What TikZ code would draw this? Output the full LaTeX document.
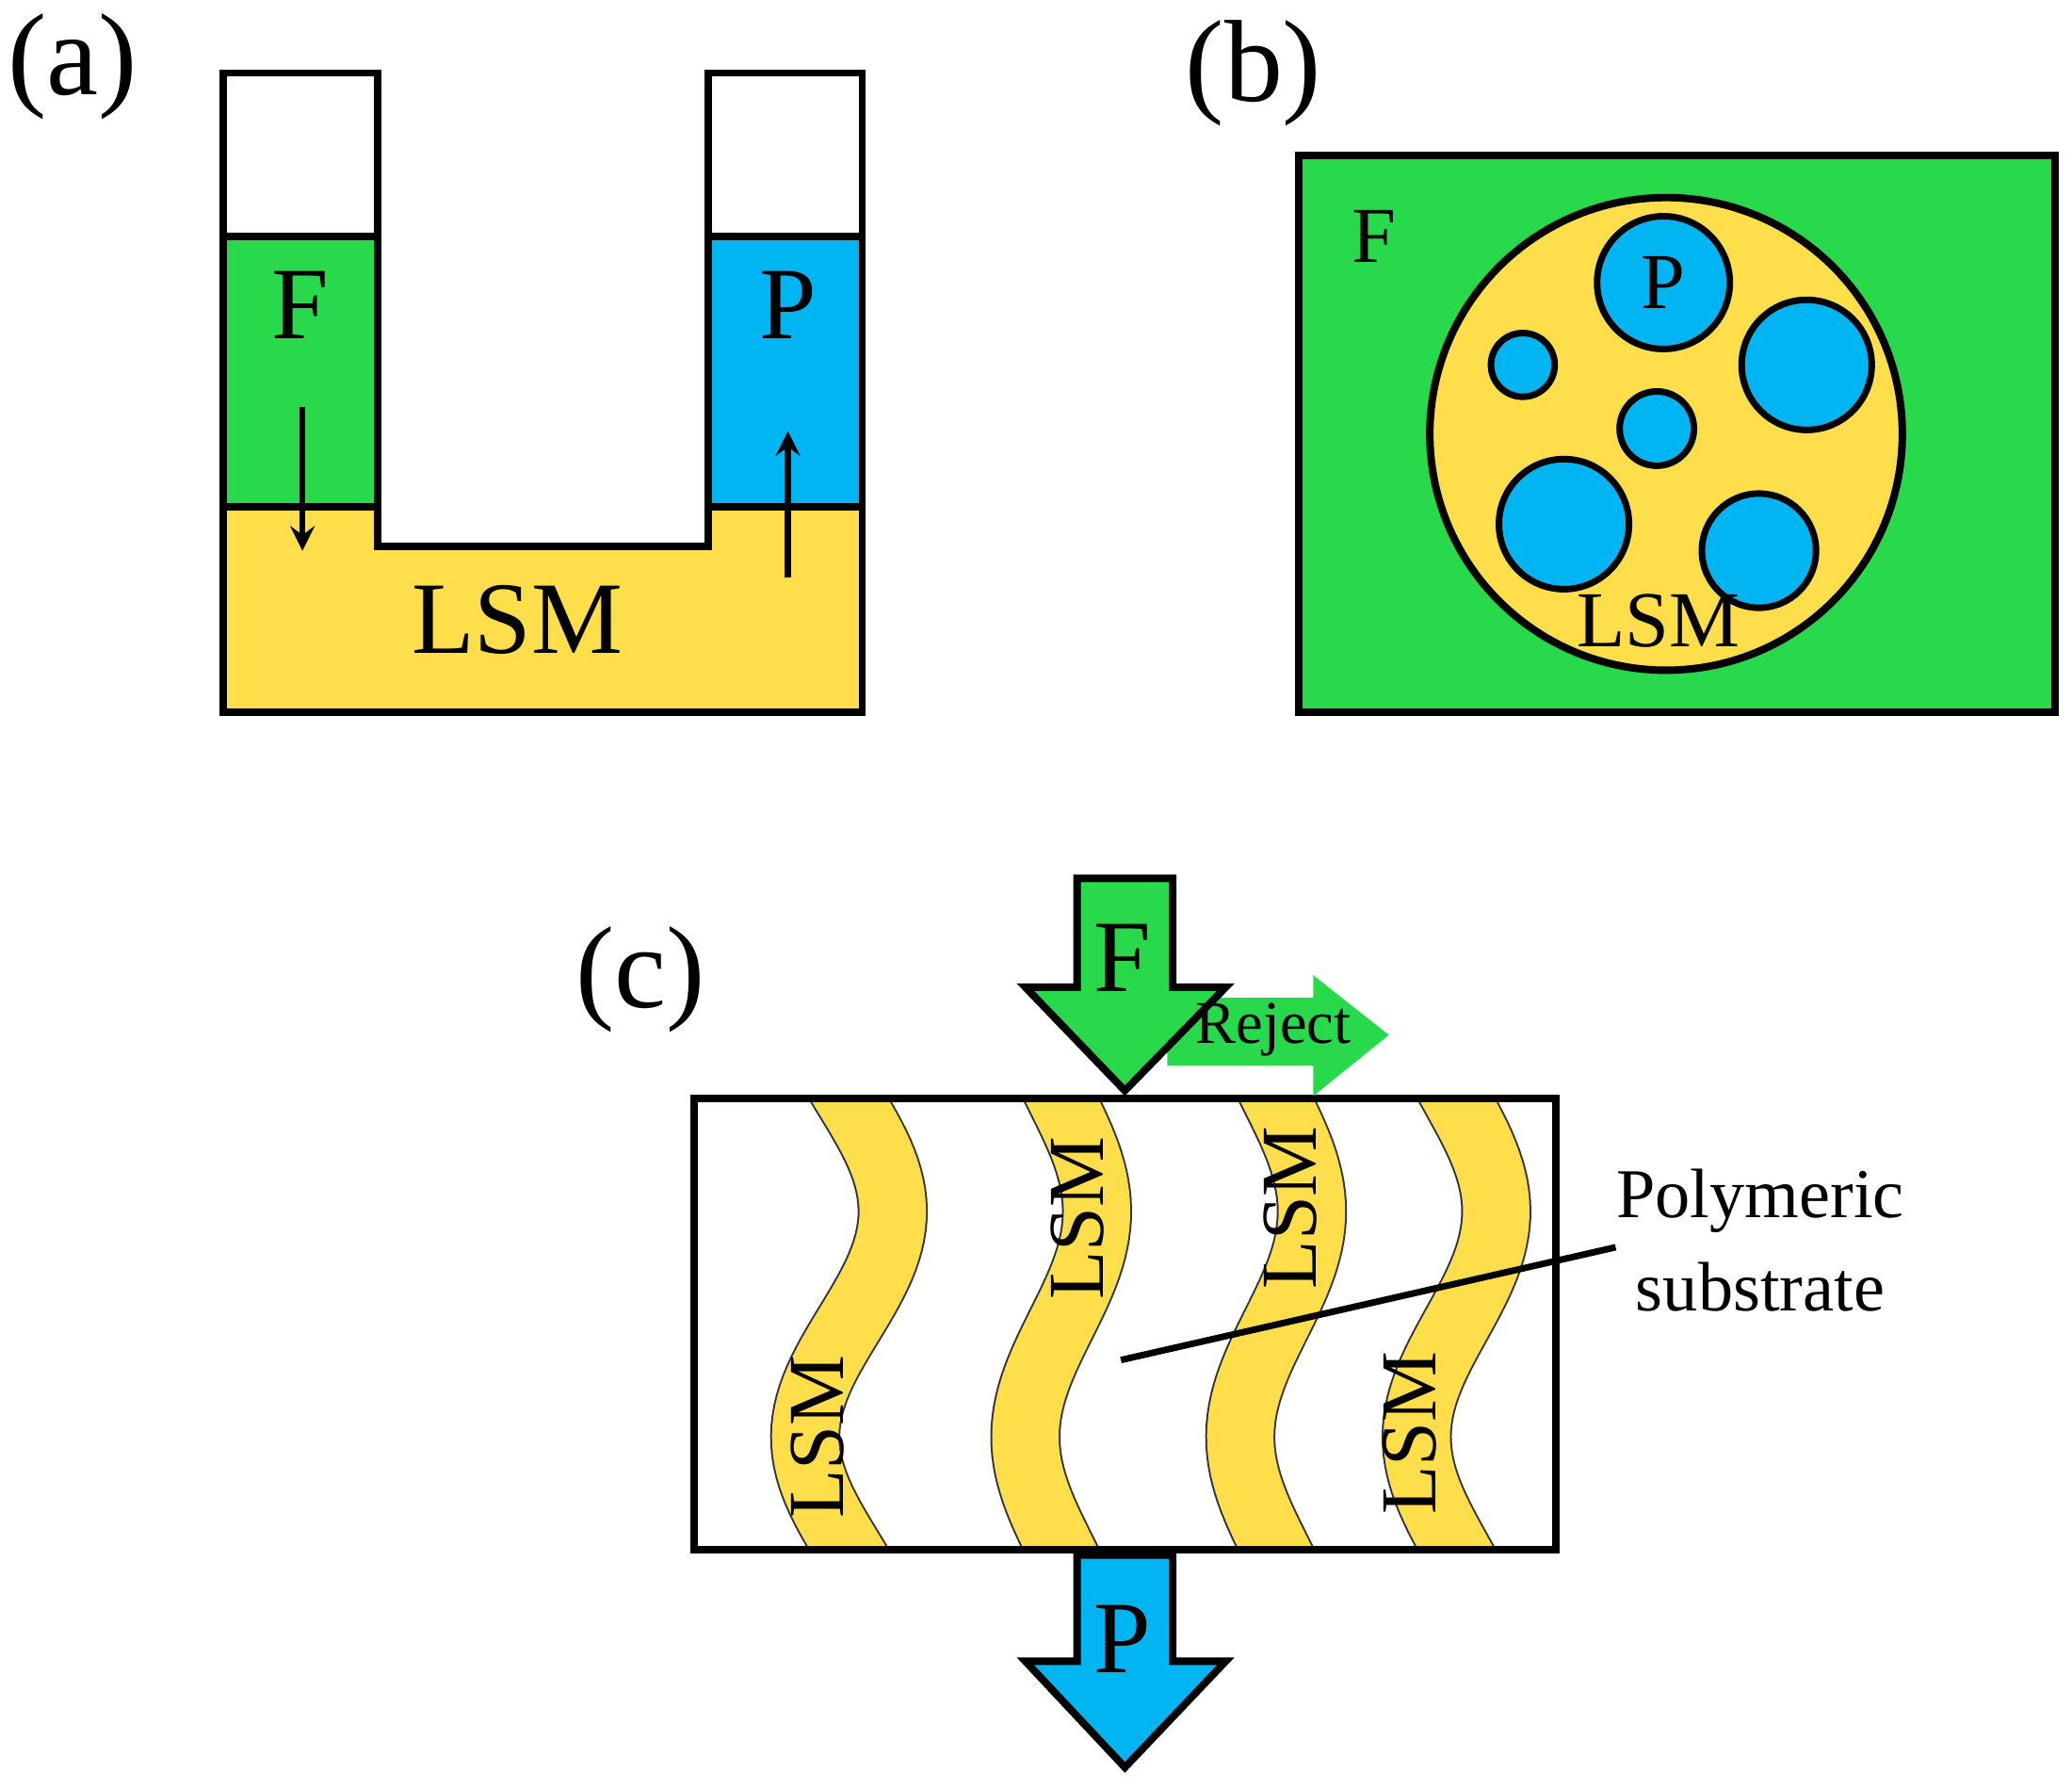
\documentclass[tikz,border=0pt]{standalone}
\usepackage{fontspec}
\setmainfont{Liberation Serif}
\usetikzlibrary{positioning}
\definecolor{feedgreen}{HTML}{28D94C}
\definecolor{permblue}{HTML}{00B5F2}
\definecolor{lsmyellow}{HTML}{FFDE4C}

\begin{document}
\begin{tikzpicture}[x=0.01cm, y=-0.01cm, >=stealth]%

    \tikzstyle{wall} = [ line width = 1.6pt, draw = black]
    \tikzstyle{big} = [ font = \fontsize{22}{24}\selectfont, inner sep = 0pt]
    \tikzstyle{mid} = [ font = \fontsize{17}{20}\selectfont, inner sep = 0pt]
    \tikzstyle{pore} = [ circle, fill = permblue, draw = black, line width = 1.4pt, inner sep = 0pt]
    \tikzstyle{band} = [ draw = black!80, thin, double = lsmyellow, double distance = 0.5cm]

    \useasboundingbox (0,0) rectangle (1562,1348);

    %% Panel labels
    \node [font = \fontsize{25}{28}\selectfont] (lab_a) at (55,50) {(a)};
    \node [font = \fontsize{25}{28}\selectfont] (lab_b) at (945,55) {(b)};
    \node [font = \fontsize{25}{28}\selectfont] (lab_c) at (483,738) {(c)};

    %% (a) U-tube
    \fill [lsmyellow] (168,382) rectangle (650,537);
    \fill [white] (285,370) rectangle (534,412);
    \fill [feedgreen] (168,178) rectangle (285,382);
    \fill [permblue] (534,178) rectangle (650,382);
    \draw [wall] (168,55) -- (168,537) -- (650,537) -- (650,55) -- (534,55)
        -- (534,412) -- (285,412) -- (285,55) -- cycle;
    \draw [wall] (168,178) -- (285,178) (168,382) -- (285,382);
    \draw [wall] (534,178) -- (650,178) (534,382) -- (650,382);
    \node [big] (f_a) at (226,230) {F};
    \node [big] (p_a) at (594,230) {P};
    \node [big] (lsm_a) at (390,467) {LSM};
    \coordinate (fa_top) at (228,307);
    \coordinate (fa_bot) at (228,415);
    \coordinate (pa_bot) at (594,435);
    \coordinate (pa_top) at (594,325);
    \draw [->, line width = 1.3pt] (fa_top) -- (fa_bot);
    \draw [->, line width = 1.3pt] (pa_bot) -- (pa_top);

    %% (b) emulsion drop
    \draw [wall, fill = feedgreen] (979,117) rectangle (1549,537);
    \node [circle, draw = black, line width = 1.6pt, fill = lsmyellow, minimum size = 3.56cm] (drop) at (1256,327) {};
    \node [pore, minimum size = 1.0cm] (p1) at (1254,213) {};
    \node [pore, minimum size = 0.48cm] (p2) at (1148,275) {};
    \node [pore, minimum size = 0.98cm] (p3) at (1362,275) {};
    \node [pore, minimum size = 0.56cm] (p4) at (1249,323) {};
    \node [pore, minimum size = 0.98cm] (p5) at (1179,395) {};
    \node [pore, minimum size = 0.86cm] (p6) at (1326,415) {};
    \node [mid] at (p1) {P};
    \node [mid] (f_b) at (1036,178) {F};
    \node [mid] (lsm_b) at (1250,468) {LSM};

    %% (c) supported membrane
    \begin{scope}
        \clip (523,828) rectangle (1173,1168);
        \foreach \c/\a in {640/33, 800/27, 962/27, 1098/30}
            \draw [band] plot [domain = 790:1210, samples = 70, variable = \t] ({\c+\a*sin(1.0588*(\t-828))},\t);
    \end{scope}
    \draw [wall] (523,828) rectangle (1173,1168);
    \node [mid, rotate = 90] (lsm_c1) at (616,1083) {LSM};
    \node [mid, rotate = 90] (lsm_c2) at (812,918) {LSM};
    \node [mid, rotate = 90] (lsm_c3) at (973,910) {LSM};
    \node [mid, rotate = 90] (lsm_c4) at (1063,1080) {LSM};

    %% Flows
    \fill [feedgreen] (880,752) -- (990,752) -- (990,735) -- (1047,780)
        -- (990,826) -- (990,803) -- (880,803) -- cycle;
    \draw [wall, fill = feedgreen] (812,662) -- (884,662) -- (884,744) -- (924,744)
        -- (848,822) -- (773,744) -- (812,744) -- cycle;
    \draw [wall, fill = permblue] (812,1172) -- (884,1172) -- (884,1252) -- (924,1252)
        -- (848,1332) -- (773,1252) -- (812,1252) -- cycle;
    \node [big] (f_c) at (846,722) {F};
    \node [big] (p_c) at (846,1235) {P};
    \node [font = \fontsize{13}{15}\selectfont, inner sep = 0pt] (reject) at (960,776) {Reject};

    %% Substrate callout
    \node [font = \fontsize{15}{20}\selectfont, align = center] (subs) at (1327,935) {Polymeric\\substrate};
    \coordinate (subs_tip) at (845,1025);
    \coordinate (subs_end) at (1218,940);
    \draw [line width = 1.4pt] (subs_end) -- (subs_tip);

\end{tikzpicture}
\end{document}
